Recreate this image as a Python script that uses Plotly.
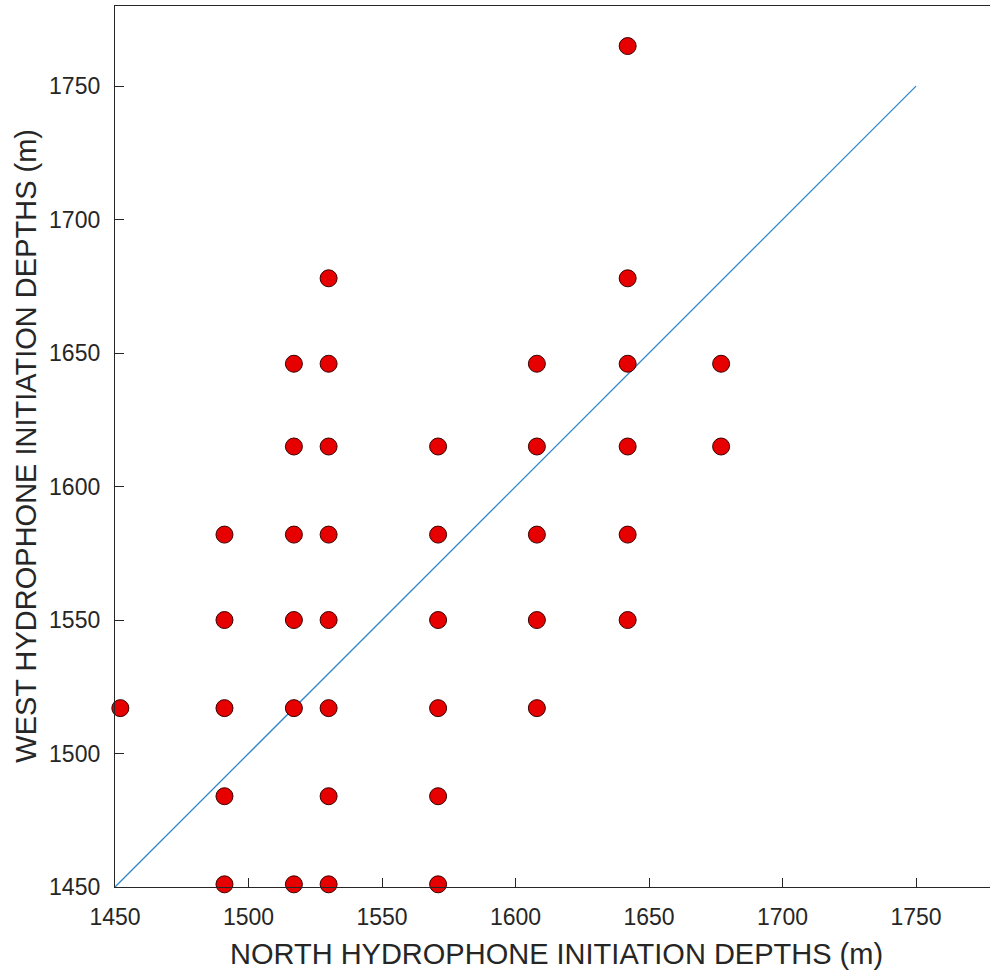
import plotly.graph_objects as go

# North depths (x) and West depths (y)
north = [1452,
         1491, 1491, 1491, 1491, 1491,
         1517, 1517, 1517, 1517, 1517, 1517,
         1530, 1530, 1530, 1530, 1530, 1530, 1530, 1530,
         1571, 1571, 1571, 1571, 1571, 1571,
         1608, 1608, 1608, 1608, 1608,
         1642, 1642, 1642, 1642, 1642, 1642,
         1677, 1677]
west = [1517,
        1582, 1550, 1517, 1484, 1451,
        1646, 1615, 1582, 1550, 1517, 1451,
        1678, 1646, 1615, 1582, 1550, 1517, 1484, 1451,
        1615, 1582, 1550, 1517, 1484, 1451,
        1646, 1615, 1582, 1550, 1517,
        1765, 1678, 1646, 1615, 1582, 1550,
        1646, 1615]
ref_line = [1450, 1750]
ticks = [1450, 1500, 1550, 1600, 1650, 1700, 1750]

FONT = "Liberation Sans, Arial, sans-serif"
TXT = "#262626"

fig = go.Figure()
fig.add_trace(go.Scatter(x=ref_line, y=ref_line, mode="lines",
                         line=dict(color="#2f87c8", width=1.3),
                         hoverinfo="skip", showlegend=False))
fig.add_trace(go.Scatter(x=north, y=west, mode="markers",
                         marker=dict(size=17, color="#e60000",
                                     line=dict(color="#3a0000", width=1)),
                         showlegend=False, cliponaxis=False))

fig.update_layout(
    width=990, height=977,
    margin=dict(l=115, r=0, t=6, b=90),
    paper_bgcolor="white", plot_bgcolor="white",
    font=dict(family=FONT, color=TXT),
    annotations=[
        dict(text="NORTH HYDROPHONE INITIATION DEPTHS (m)", xref="paper", yref="paper",
             x=0.505, y=-0.076, xanchor="center", yanchor="middle", showarrow=False,
             font=dict(size=29, family=FONT, color=TXT)),
        dict(text="WEST HYDROPHONE INITIATION DEPTHS (m)", xref="paper", yref="paper",
             x=-0.102, y=0.5006, xanchor="center", yanchor="middle", showarrow=False,
             textangle=-90, font=dict(size=29, family=FONT, color=TXT)),
    ],
)
fig.update_xaxes(range=[1450, 1777.7], tickvals=ticks, ticks="inside", ticklen=9,
                 tickcolor=TXT, showline=True, linecolor=TXT, linewidth=1.3,
                 mirror=True, showgrid=False, zeroline=False,
                 tickfont=dict(size=23, family=FONT, color=TXT), ticklabelstandoff=9)
fig.update_yaxes(range=[1450, 1780], tickvals=ticks, ticks="inside", ticklen=9,
                 tickcolor=TXT, showline=True, linecolor=TXT, linewidth=1.3,
                 showgrid=False, zeroline=False,
                 tickfont=dict(size=23, family=FONT, color=TXT), ticklabelstandoff=9)

fig.write_html("out.html")
